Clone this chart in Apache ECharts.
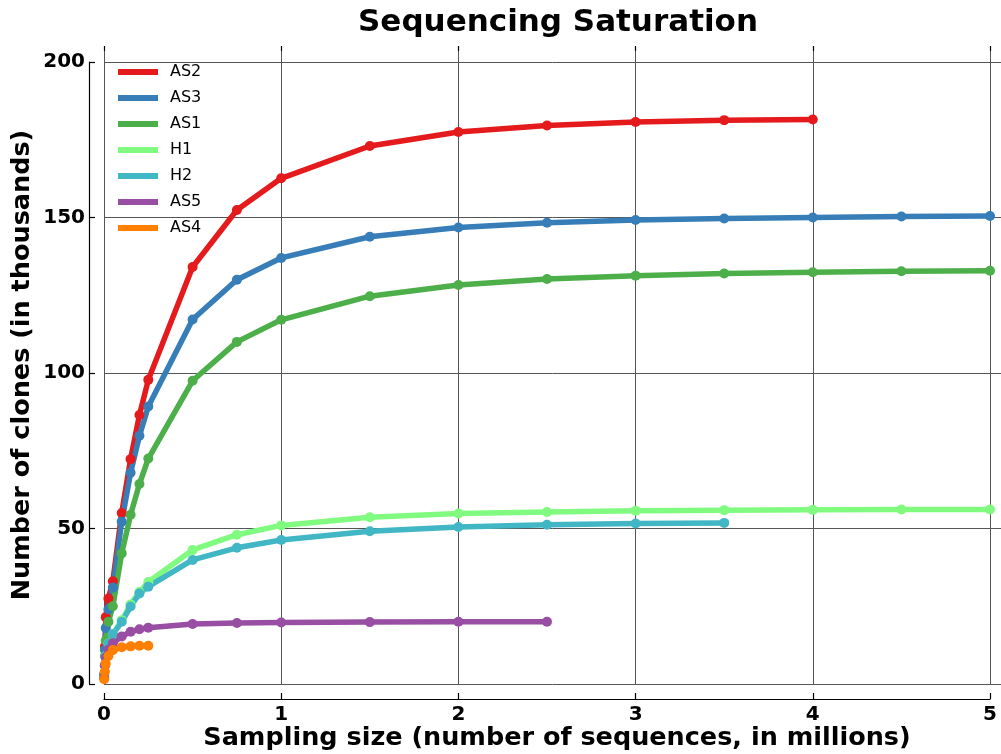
<!DOCTYPE html>
<html>
<head>
<meta charset="utf-8">
<script src="https://cdn.jsdelivr.net/npm/echarts@6/dist/echarts.min.js"></script>
<style>
  html, body { margin: 0; padding: 0; background: #fff; }
  #chart { width: 1001px; height: 754px; }
</style>
</head>
<body>
<div id="chart"></div>
<script>
// Sampling depths (millions of sequences)
const samplingSizes = [0.001, 0.005, 0.01, 0.025, 0.05, 0.1, 0.15, 0.2, 0.25,
                       0.5, 0.75, 1, 1.5, 2, 2.5, 3, 3.5, 4, 4.5, 5];

// Clone counts (thousands) per sample, one value per sampling depth
const sampleNames = ['AS2', 'AS3', 'AS1', 'H1', 'H2', 'AS5', 'AS4'];
const AS2 = [3, 12, 21.5, 27.5, 33, 55, 72.3, 86.5, 97.8, 134.1, 152.4, 162.6, 173, 177.5, 179.6, 180.7, 181.3, 181.5];
const AS3 = [3, 11, 18, 24, 31, 52.2, 67.9, 79.8, 89.2, 117.2, 130, 137, 143.8, 146.8, 148.3, 149.2, 149.7, 150, 150.3, 150.5];
const AS1 = [2.5, 9, 14, 20, 25, 42, 54.4, 64.3, 72.5, 97.5, 110, 117.1, 124.7, 128.3, 130.2, 131.3, 132, 132.4, 132.7, 132.9];
const H1  = [2, 6, 9, 13, 16, 20.5, 25.6, 29.6, 32.8, 43.1, 48, 51, 53.6, 54.8, 55.3, 55.7, 55.9, 56, 56.1, 56.1];
const H2  = [2, 6, 9, 13, 16, 20, 24.9, 29.1, 31.3, 39.9, 43.8, 46.3, 49.1, 50.5, 51.2, 51.6, 51.8];
const AS5 = [2, 6, 8.5, 11, 13.1, 15.3, 16.8, 17.6, 18.1, 19.3, 19.6, 19.8, 19.9, 20, 20];
const AS4 = [1.5, 4, 6.5, 9, 10.9, 11.8, 12.1, 12.3, 12.3];

// Axis ticks
const xTicks = [0, 1, 2, 3, 4, 5];
const yTicks = [0, 50, 100, 150, 200];

const seriesValues = [AS2, AS3, AS1, H1, H2, AS5, AS4];
const seriesColors = ['#e41a1c', '#377eb8', '#4daf4a', '#80fb80', '#41b6c4', '#984ea3', '#ff7f00'];

const FONT = 'DejaVu Sans';
const chart = echarts.init(document.getElementById('chart'), null, { renderer: 'canvas' });

// plotting grid extends a little past the last tick on the right and top
const xStep = xTicks[1] - xTicks[0];
const yStep = yTicks[1] - yTicks[0];
const xMaxTick = xTicks[xTicks.length - 1];
const yMaxTick = yTicks[yTicks.length - 1];
const plotXMax = xMaxTick * 897 / 886;
const plotYMax = yMaxTick * 638 / 622;

const series = sampleNames.map((name, i) => ({
  name: name,
  type: 'line',
  xAxisIndex: 0,
  yAxisIndex: 0,
  data: seriesValues[i].map((v, j) => [samplingSizes[j], v]),
  symbol: 'circle',
  symbolSize: 10,
  showSymbol: true,
  lineStyle: { width: 5.5, color: seriesColors[i] },
  itemStyle: { color: seriesColors[i] },
  emphasis: { disabled: true },
  animation: false
}));

chart.setOption({
  animation: false,
  backgroundColor: '#ffffff',
  grid: [
    { left: 104, right: 0, top: 46, bottom: 70 },
    { left: 104, right: 11, top: 62, bottom: 70 }
  ],
  legend: {
    data: sampleNames,
    orient: 'vertical',
    left: 118,
    top: 64,
    padding: 0,
    icon: 'rect',
    itemWidth: 40,
    itemHeight: 6,
    itemGap: 10,
    textStyle: { fontFamily: FONT, fontSize: 16, color: '#000', lineHeight: 16, padding: [0, 0, 0, 7] }
  },
  xAxis: [
    {
      gridIndex: 0, type: 'value', min: 0, max: plotXMax, interval: xStep,
      axisLine: { show: false }, axisTick: { show: false }, axisLabel: { show: false },
      splitLine: { show: true, showMaxLine: false, lineStyle: { color: '#555', width: 1 } }
    },
    {
      gridIndex: 0, type: 'value', position: 'top', min: 0, max: plotXMax, interval: xStep,
      axisLine: { show: false }, axisLabel: { show: false }, splitLine: { show: false },
      axisTick: { show: true, inside: true, length: 5, customValues: xTicks,
                  lineStyle: { color: '#000', width: 1.2 } }
    },
    {
      gridIndex: 1, type: 'value', min: 0, max: xMaxTick, interval: xStep, offset: 15,
      axisLine: { show: true, onZero: false, lineStyle: { color: '#000', width: 1.2 } },
      axisTick: { show: true, inside: true, length: 6, lineStyle: { color: '#000', width: 1.2 } },
      axisLabel: { show: true, margin: 6, fontFamily: FONT, fontSize: 20, fontWeight: 'bold', color: '#000' },
      splitLine: { show: false }
    }
  ],
  yAxis: [
    {
      gridIndex: 0, type: 'value', min: 0, max: plotYMax, interval: yStep,
      axisLine: { show: false }, axisTick: { show: false }, axisLabel: { show: false },
      splitLine: { show: true, showMaxLine: false, lineStyle: { color: '#555', width: 1 } }
    },
    {
      gridIndex: 1, type: 'value', min: 0, max: yMaxTick, interval: yStep, offset: 15,
      axisLine: { show: true, onZero: false, lineStyle: { color: '#000', width: 1.2 } },
      axisTick: { show: true, inside: true, length: 6, lineStyle: { color: '#000', width: 1.2 } },
      axisLabel: { show: true, margin: 4, fontFamily: FONT, fontSize: 20, fontWeight: 'bold', color: '#000' },
      splitLine: { show: false }
    }
  ],
  graphic: [
    {
      type: 'text', x: 558, y: 23,
      style: { text: 'Sequencing Saturation', align: 'center', verticalAlign: 'middle',
               fontFamily: FONT, fontSize: 31, fontWeight: 'bold', fill: '#000' }
    },
    {
      type: 'text', x: 557, y: 738,
      style: { text: 'Sampling size (number of sequences, in millions)', align: 'center', verticalAlign: 'middle',
               fontFamily: FONT, fontSize: 25.5, fontWeight: 'bold', fill: '#000' }
    },
    {
      type: 'text', x: 22, y: 365, rotation: Math.PI / 2,
      style: { text: 'Number of clones (in thousands)', align: 'center', verticalAlign: 'middle',
               fontFamily: FONT, fontSize: 25.5, fontWeight: 'bold', fill: '#000' }
    }
  ],
  series: series
});
</script>
</body>
</html>
